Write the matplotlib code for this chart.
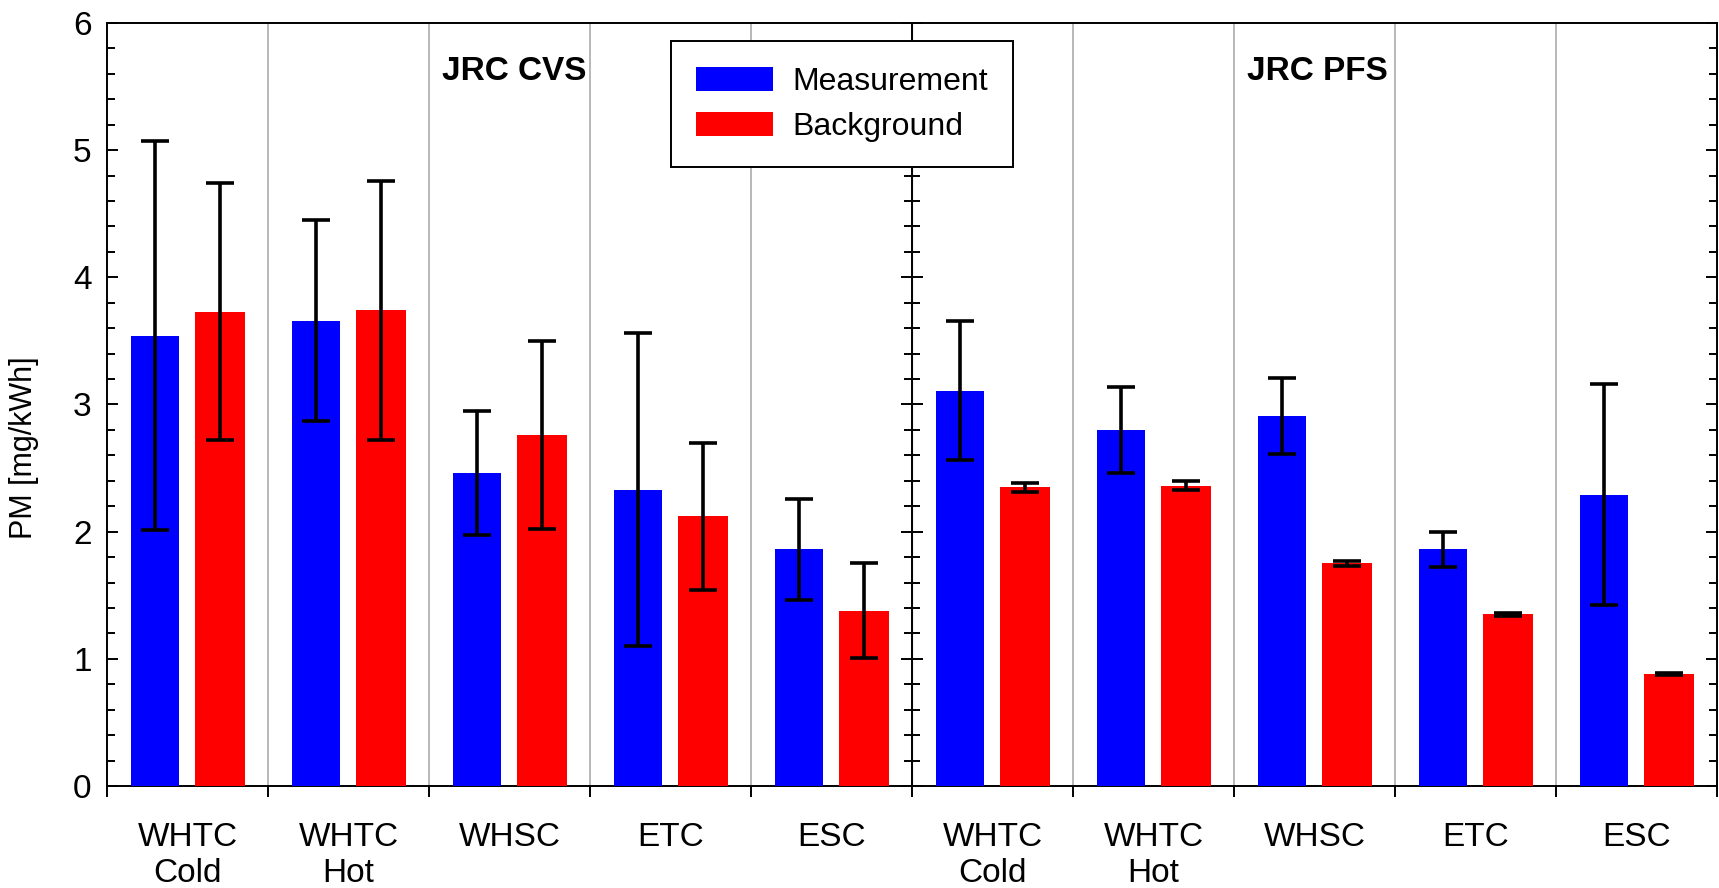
import matplotlib
matplotlib.use('Agg')
import matplotlib.pyplot as plt
import numpy as np
from matplotlib.ticker import MultipleLocator, FixedLocator

plt.rcParams['font.family'] = ['Liberation Sans', 'DejaVu Sans']

# test cycles, first half JRC CVS, second half JRC PFS
cycles = ['WHTC\nCold', 'WHTC\nHot', 'WHSC', 'ETC', 'ESC'] * 2

measurement = [3.54, 3.66, 2.46, 2.33, 1.86, 3.11, 2.80, 2.91, 1.86, 2.29]
measurement_err = [1.53, 0.79, 0.49, 1.23, 0.40, 0.55, 0.34, 0.30, 0.14, 0.87]
background = [3.73, 3.74, 2.76, 2.12, 1.38, 2.35, 2.36, 1.75, 1.35, 0.88]
background_err = [1.01, 1.02, 0.74, 0.58, 0.37, 0.035, 0.035, 0.02, 0.01, 0.01]

x = np.arange(len(cycles))

fig = plt.figure(figsize=(17.19, 8.88), dpi=100)
ax = fig.add_axes([107/1719, 102/888, 1610/1719, 763/888])

err_kw = dict(ecolor='black', elinewidth=2.6, capsize=10, capthick=2.6)
ax.bar(x + 0.30, measurement, width=0.30, color='#0000ff', label='Measurement',
       yerr=measurement_err, error_kw=err_kw, zorder=3)
ax.bar(x + 0.70, background, width=0.31, color='#ff0000', label='Background',
       yerr=background_err, error_kw=err_kw, zorder=3)

ax.set_xlim(0, 10)
ax.set_ylim(0, 6)

# labels in the middle of each group, ticks on the group borders
ax.xaxis.set_major_locator(FixedLocator(x + 0.5))
ax.set_xticklabels(cycles)
ax.xaxis.set_minor_locator(FixedLocator(np.arange(0, 11)))
ax.tick_params(axis='x', which='major', length=0, pad=26, labelsize=24)
ax.tick_params(axis='x', which='minor', direction='out', length=8, width=1.4)
ax.grid(True, which='minor', axis='x', color='#b8b8b8', lw=1.4, zorder=0)

ax.yaxis.set_major_locator(MultipleLocator(1))
ax.yaxis.set_minor_locator(MultipleLocator(0.2))
ax.tick_params(axis='y', which='both', direction='in', right=True, width=1.4)
ax.tick_params(axis='y', which='major', length=8, pad=11, labelsize=24)
ax.tick_params(axis='y', which='minor', length=5.5)
ax.set_ylabel('PM [mg/kWh]', fontsize=22)
ax.yaxis.set_label_coords(-0.042, 0.443)

for s in ax.spines.values():
    s.set_linewidth(1.4)

# middle axis between the two labs
ax.axvline(5, color='black', lw=1.4, zorder=2)
mid = ax.secondary_yaxis(0.5)
mid.yaxis.set_major_locator(MultipleLocator(1))
mid.yaxis.set_minor_locator(MultipleLocator(0.2))
mid.tick_params(axis='y', which='both', direction='inout', width=1.4,
                labelleft=False, labelright=False)
mid.tick_params(axis='y', which='major', length=16)
mid.tick_params(axis='y', which='minor', length=11)

ax.text(2.08, 5.74, 'JRC CVS', fontsize=24, fontweight='bold', va='top', ha='left')
ax.text(7.08, 5.74, 'JRC PFS', fontsize=24, fontweight='bold', va='top', ha='left')

leg = ax.legend(loc='upper left', bbox_to_anchor=(0.350, 0.976), fontsize=23,
                frameon=True, fancybox=False, edgecolor='black', framealpha=1,
                handlelength=2.4, handleheight=0.8, handletextpad=0.6,
                labelspacing=0.45, borderpad=0.8, borderaxespad=0)
leg.get_frame().set_linewidth(1.4)
leg.set_zorder(5)

plt.savefig('out.png', dpi=100)
